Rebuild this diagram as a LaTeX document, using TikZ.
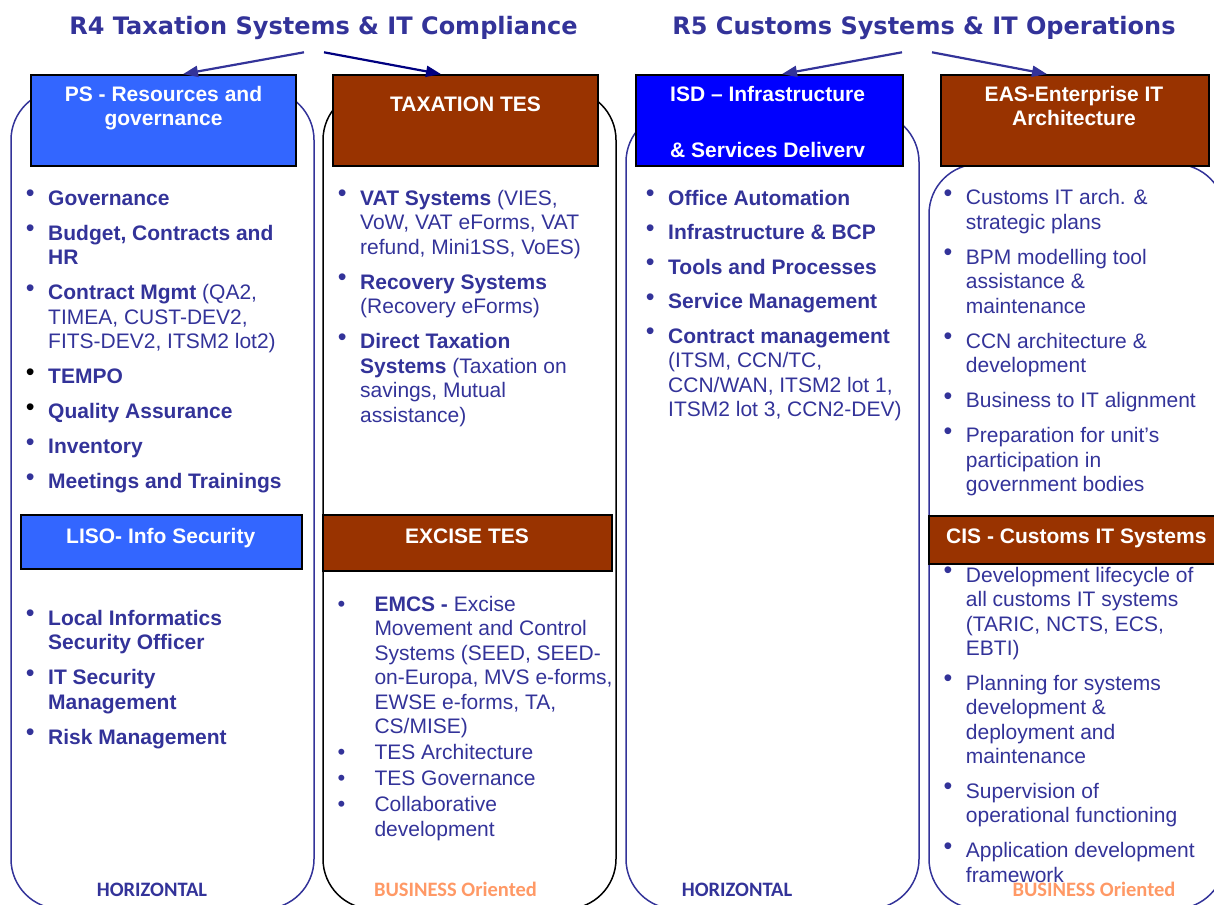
\documentclass[tikz,border=0pt]{standalone}
\usepackage{fontspec}
\setmainfont{Liberation Sans}
\newfontfamily\titlefont{DejaVu Sans}
\newfontfamily\califont{Carlito}
\usetikzlibrary{arrows.meta,calc}
\definecolor{navyt}{HTML}{333399}
\definecolor{navyd}{HTML}{000080}
\definecolor{brownb}{HTML}{993300}
\definecolor{bluePS}{HTML}{3366FF}
\definecolor{blueISD}{HTML}{0000FF}
\definecolor{orangeb}{HTML}{FF9966}
\newcommand\bul[1][navyt]{\leavevmode\llap{\raisebox{3.5pt}{\makebox[0pt][c]{\color{#1}\fontsize{25}{25}\selectfont •}}\hspace{18pt}}}
\newcommand\bmid{\leavevmode\llap{\makebox[0pt][c]{\fontsize{22}{22}\selectfont •}\hspace{33pt}}}
\newcommand\st{\rule{0pt}{18pt}}
\tikzset{
  colbox/.style={draw, line width=1.5pt, rounded corners=50pt, inner sep=0, fill=none},
  hdrbox/.style={draw=black, line width=1.8pt, inner sep=0},
  hdrtext/.style={text=white, font=\bfseries\fontsize{21}{24}\selectfont, inner sep=0},
  ttl/.style={text=navyt, font=\titlefont\bfseries\fontsize{24}{28}\selectfont, inner sep=0, anchor=base},
  lst/.style={align=left, inner sep=0, text=navyt, font=\fontsize{21}{24.5}\selectfont, anchor=north west},
  btm/.style={font=\califont\bfseries\fontsize{20.5}{24}\selectfont, inner sep=0, anchor=base},
  arr/.style={line width=2.2pt, -{Triangle[length=15pt,width=11pt]}}
}
\begin{document}
\begin{tikzpicture}[x=1pt,y=-1pt]
\useasboundingbox (0,0) rectangle (1214,904);
\clip (0,0) rectangle (1214,904);
% columns
\node[colbox, draw=navyt, minimum width=303pt, minimum height=819pt] (col1) at (162.5,499.5) {};
\node[colbox, draw=black, minimum width=293pt, minimum height=819pt] (col2) at (469.5,499.5) {};
\node[colbox, draw=navyt, minimum width=293pt, minimum height=797pt] (col3) at (772.5,510.5) {};
\node[colbox, draw=navyt, minimum width=296pt, minimum height=745pt] (col4) at (1077,536.5) {};
% header boxes
\node[hdrbox, fill=bluePS, minimum width=265pt, minimum height=91pt] (ps) at (163.5,120.5) {};
\node[hdrbox, fill=brownb, minimum width=265pt, minimum height=91pt] (tax) at (465.5,120.5) {};
\node[hdrbox, fill=blueISD, minimum width=267pt, minimum height=91pt] (isd) at (769.5,120.5) {};
\node[hdrbox, fill=brownb, minimum width=268pt, minimum height=91pt] (eas) at (1075,120.5) {};
\node[hdrbox, fill=bluePS, minimum width=281pt, minimum height=54pt] (liso) at (161.5,542) {};
\node[hdrbox, fill=brownb, minimum width=289pt, minimum height=56pt] (exc) at (467.5,543) {};
\node[hdrbox, fill=brownb, minimum width=293pt, minimum height=48pt] (cis) at (1075.5,540) {};
% header texts
\node[hdrtext, anchor=base] (pst1) at (163.5,101.7) {PS - Resources and};
\node[hdrtext, anchor=base] (pst2) at (163.5,126) {governance};
\node[hdrtext, anchor=base] (taxt) at (465.5,111.7) {TAXATION TES};
\node[hdrtext, anchor=base west] (isdt1) at (670,101.7) {ISD – Infrastructure};
\node[hdrtext, anchor=base west] (isdt2) at (670,158) {\& Services Deliverv};
\node[hdrtext, anchor=base] (east1) at (1074,101.7) {EAS-Enterprise IT};
\node[hdrtext, anchor=base] (east2) at (1074,126) {Architecture};
\node[hdrtext, anchor=base] (lisot) at (160.7,543.3) {LISO- Info Security};
\node[hdrtext, anchor=base] (exct) at (467,543.3) {EXCISE TES};
\node[hdrtext, anchor=base west] (cist) at (946,543) {CIS - Customs IT Systems};
% titles
\node[ttl] (r4) at (323.5,34.3) {R4 Taxation Systems \& IT Compliance};
\node[ttl] (r5) at (924,34.3) {R5 Customs Systems \& IT Operations};
% arrows
\draw[arr, navyt] ($(r4.base)+(-19.5,18)$) -- ($(ps.north)+(19.5,0)$);
\draw[arr, navyd] ($(r4.base)+(0.5,18)$) -- ($(tax.north)+(-24.5,0)$);
\draw[arr, navyt] ($(r5.base)+(-22,18)$) -- ($(isd.north)+(12.5,0)$);
\draw[arr, navyt] ($(r5.base)+(8,18)$) -- ($(eas.north)+(-28,0)$);
% lists
\node[lst] (l1) at (48,187) {\st\bul\textbf{Governance}\\[10.5pt]
\bul\textbf{Budget, Contracts and}\\ \textbf{HR}\\[10.5pt]
\bul\textbf{Contract Mgmt} (QA2,\\ TIMEA, CUST-DEV2,\\ FITS-DEV2, ITSM2 lot2)\\[10.5pt]
\bul[black]\textbf{TEMPO}\\[10.5pt]
\bul[black]\textbf{Quality Assurance}\\[10.5pt]
\bul\textbf{Inventory}\\[10.5pt]
\bul\textbf{Meetings and Trainings}};
\node[lst] (l1b) at (48,607) {\st\bul\textbf{Local Informatics}\\ \textbf{Security Officer}\\[10.5pt]
\bul\textbf{IT Security}\\ \textbf{Management}\\[10.5pt]
\bul\textbf{Risk Management}};
\node[lst] (l2) at (360,187) {\st\bul\textbf{VAT Systems} (VIES,\\ VoW, VAT eForms, VAT\\ refund, Mini1SS, VoES)\\[10.5pt]
\bul\textbf{Recovery Systems}\\ (Recovery eForms)\\[10.5pt]
\bul\textbf{Direct Taxation}\\ \textbf{Systems} (Taxation on\\ savings, Mutual\\ assistance)};
\node[lst] (l2b) at (374.3,593) {\st\bmid\textbf{EMCS -} Excise\\ Movement and Control\\ Systems (SEED, SEED-\\ on-Europa, MVS e-forms,\\ EWSE e-forms, TA,\\ CS/MISE)\\[1.5pt]
\bmid TES Architecture\\[1.5pt]
\bmid TES Governance\\[1.5pt]
\bmid Collaborative\\ development};
\node[lst] (l3) at (668,187) {\st\bul\textbf{Office Automation}\\[10pt]
\bul\textbf{Infrastructure \& BCP}\\[10pt]
\bul\textbf{Tools and Processes}\\[10pt]
\bul\textbf{Service Management}\\[10pt]
\bul\textbf{Contract management}\\ (ITSM, CCN/TC,\\ CCN/WAN, ITSM2 lot 1,\\ ITSM2 lot 3, CCN2-DEV)};
\node[lst] (l4) at (965.7,186.5) {\st\bul Customs IT arch. \&\\ strategic plans\\[10.5pt]
\bul BPM modelling tool\\ assistance \&\\ maintenance\\[10.5pt]
\bul CCN architecture \&\\ development\\[10.5pt]
\bul Business to IT alignment\\[10.5pt]
\bul Preparation for unit’s\\ participation in\\ government bodies};
\node[lst] (l4b) at (965.7,564) {\st\bul Development lifecycle of\\ all customs IT systems\\ (TARIC, NCTS, ECS,\\ EBTI)\\[10pt]
\bul Planning for systems\\ development \&\\ deployment and\\ maintenance\\[10pt]
\bul Supervision of\\ operational functioning\\[10.5pt]
\bul Application development\\ framework};
% bottom labels
\node[btm, text=navyt] (h1) at (152,896) {HORIZONTAL};
\node[btm, text=orangeb] (b1) at (455.5,896) {BUSINESS Oriented};
\node[btm, text=navyt] (h2) at (737,896) {HORIZONTAL};
\node[btm, text=orangeb] (b2) at (1094,896) {BUSINESS Oriented};
\end{tikzpicture}
\end{document}
